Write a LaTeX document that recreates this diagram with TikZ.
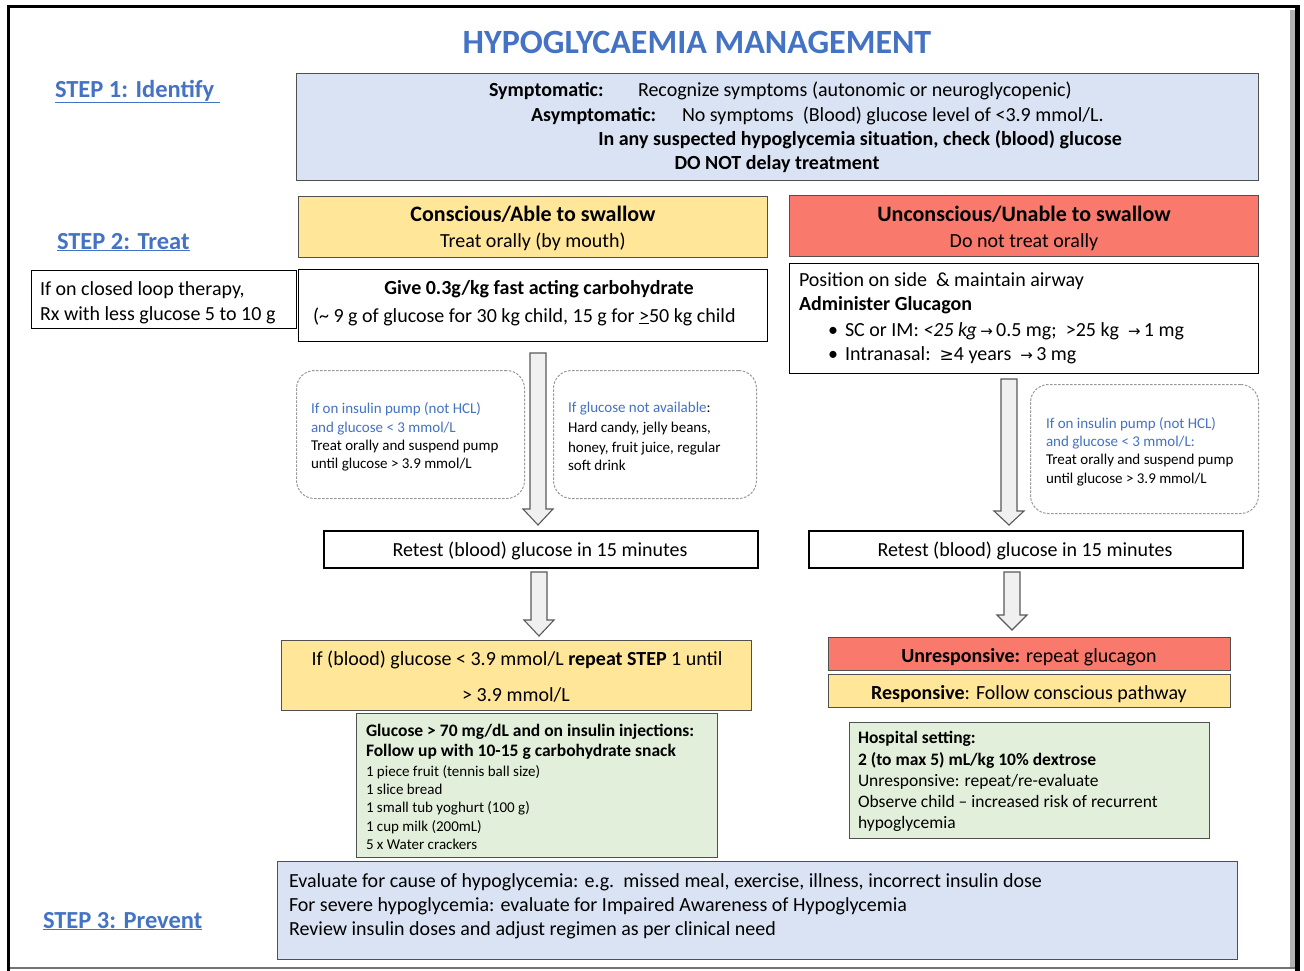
\documentclass[tikz,border=0pt]{standalone}
\usepackage{fontspec}
\setmainfont{Carlito}
\newfontfamily\dvfont{DejaVu Sans}
\definecolor{tblue}{HTML}{4472C4}
\definecolor{lblue}{HTML}{DAE3F3}
\definecolor{lyellow}{HTML}{FFE699}
\definecolor{lred}{HTML}{F97A6C}
\definecolor{lgreen}{HTML}{E2EFDA}
\definecolor{bordergrey}{HTML}{505050}
\newcommand{\myarr}{{\dvfont\fontsize{15}{15}\selectfont →}}
\newcommand{\myge}{{\dvfont\fontsize{17}{17}\selectfont ≥}}
\newcommand{\mkbox}[6]{\node[#2, minimum width={#5-#3}, minimum height={#6-#4}, anchor=north west, inner sep=0pt] (#1) at (#3,#4) {};}
\newcommand{\blkarrow}[4]{\draw[blockarr] ({#1-8},#2) -- ({#1+8},#2) -- ({#1+8},#3) -- ({#1+15},#3) -- (#1,#4) -- ({#1-15},#3) -- ({#1-8},#3) -- cycle;}
\begin{document}
\begin{tikzpicture}[x=1pt,y=-1pt,
  tx/.style={inner sep=0pt, outer sep=0pt, yshift=-2.5pt},
  f20/.style={font=\fontsize{20}{24}\selectfont, text height=13.5pt, text depth=4pt},
  f22/.style={font=\fontsize{22}{26}\selectfont\bfseries, text height=14.8pt, text depth=4.4pt},
  f15/.style={font=\fontsize{15}{18}\selectfont, text height=10pt, text depth=3pt},
  f17/.style={font=\fontsize{17.5}{21}\selectfont, text height=11.8pt, text depth=3.5pt},
  steplbl/.style={tx, font=\fontsize{24.5}{28}\selectfont\bfseries, text=tblue, text height=16pt, text depth=5pt, anchor=west},
  plainbox/.style={draw=black, line width=1.2pt, fill=white},
  bluebox/.style={draw=bordergrey, line width=1.2pt, fill=lblue},
  yellowbox/.style={draw=bordergrey, line width=1.2pt, fill=lyellow},
  redbox/.style={draw=bordergrey, line width=1.2pt, fill=lred},
  greenbox/.style={draw=bordergrey, line width=1.2pt, fill=lgreen},
  retestbox/.style={draw=black, line width=2pt, fill=white},
  dashbox/.style={draw=black!40, line width=1pt, dash pattern=on 2.5pt off 1.5pt, rounded corners=18pt, fill=white},
  blockarr/.style={draw=black!65, fill=black!6, line width=1.1pt, line join=miter},
  blue/.style={text=tblue}
]
\useasboundingbox (0,0) rectangle (1304,970);
\fill[white] (0,0) rectangle (1304,970);
% outer frame
\fill[black!30] (1290,10) rectangle (1295,968);
\draw[black!55, line width=2pt] (8,968) -- (1295,968);
\draw[line width=3pt] (8.5,971) -- (8.5,6.5) -- (1297,6.5);
\draw[line width=4.5pt] (1297.5,5) -- (1297.5,971);

% title
\node[inner sep=0pt, font=\fontsize{34}{40}\selectfont\bfseries, text=tblue] (title) at (697,42) {HYPOGLYCAEMIA MANAGEMENT};

% step labels
\node[steplbl] (step1) at (55,89) {\underline{STEP 1: Identify\ }};
\node[steplbl] (step2) at (57,241) {\underline{STEP 2: Treat}};
\node[steplbl] (step3) at (43,920) {\underline{STEP 3: Prevent}};

% STEP 1 box
\mkbox{identify}{bluebox}{296}{73}{1258}{180}
\node[tx, f20, anchor=west, font=\fontsize{20}{24}\selectfont\bfseries] (symt) at (489,89) {Symptomatic:};
\node[tx, f20, anchor=west] (symtx) at (638,89) {Recognize symptoms (autonomic or neuroglycopenic)};
\node[tx, f20, anchor=west, font=\fontsize{20}{24}\selectfont\bfseries] (asym) at (531,114) {Asymptomatic:};
\node[tx, f20, anchor=west] (asymtx) at (682,114) {No symptoms\ \ (Blood) glucose level of <3.9 mmol/L.};
\node[tx, f20, font=\fontsize{20}{24}\selectfont\bfseries] (check) at (860,138) {In any suspected hypoglycemia situation, check (blood) glucose};
\node[tx, f20, font=\fontsize{20}{24}\selectfont\bfseries] (delay) at (777,162) {DO NOT delay treatment};

% conscious / unconscious headers
\mkbox{consc}{yellowbox}{298}{196}{767}{257}
\node[tx, f22] (consch) at (533,214) {Conscious/Able to swallow};
\node[tx, f20] (conscs) at (533,240) {Treat orally (by mouth)};
\mkbox{uncon}{redbox}{789}{195}{1258}{256}
\node[tx, f22] (unconh) at (1024,214) {Unconscious/Unable to swallow};
\node[tx, f20] (uncons) at (1024,240) {Do not treat orally};

% closed loop
\mkbox{loop}{plainbox}{31}{270}{296}{328}
\node[tx, f20, anchor=west] (loop1) at (40,288) {If on closed loop therapy,};
\node[tx, f20, anchor=west] (loop2) at (40,313) {Rx with less glucose 5 to 10 g};

% give carbohydrate
\mkbox{give}{plainbox}{298}{269}{767}{341}
\node[tx, f20, font=\fontsize{20}{24}\selectfont\bfseries] (give1) at (539,287) {Give 0.3g/kg fast acting carbohydrate};
\node[tx, f20, anchor=west] (give2) at (313,315) {(\textasciitilde{} 9 g of glucose for 30 kg child, 15 g for \underline{>}50 kg child};

% glucagon box
\mkbox{gluc}{plainbox}{789}{263}{1258}{373}
\node[tx, f20, anchor=west] (pos1) at (799,279) {Position on side\ \ \& maintain airway};
\node[tx, f20, anchor=west, font=\fontsize{20}{24}\selectfont\bfseries] (pos2) at (799,303) {Administer Glucagon};
\node[tx, f20, anchor=west] (bul1) at (828,329) {\textbullet};
\node[tx, f20, anchor=west] (pos3) at (845,329) {SC or IM: \textit{<25 kg}\,\myarr\,0.5 mg;\ \ >25 kg\ \ \myarr\,1 mg};
\node[tx, f20, anchor=west] (bul2) at (828,353) {\textbullet};
\node[tx, f20, anchor=west] (pos4) at (845,353) {Intranasal:\ \ \myge4 years\ \ \myarr\,3 mg};

% dashed notes
\mkbox{pump1}{dashbox}{296}{370}{524}{498}
\node[tx, f15, anchor=west, blue] (p1a) at (311,407) {If on insulin pump (not HCL)};
\node[tx, f15, anchor=west, blue] (p1b) at (311,426) {and glucose < 3 mmol/L};
\node[tx, f15, anchor=west] (p1c) at (311,444) {Treat orally and suspend pump};
\node[tx, f15, anchor=west] (p1d) at (311,462) {until glucose > 3.9 mmol/L};

\mkbox{noglu}{dashbox}{553}{370}{756}{498}
\node[tx, f15, anchor=west] (g1a) at (568,406) {\textcolor{tblue}{If glucose not available}:};
\node[tx, f15, anchor=west] (g1b) at (568,426) {Hard candy, jelly beans,};
\node[tx, f15, anchor=west] (g1c) at (568,446) {honey, fruit juice, regular};
\node[tx, f15, anchor=west] (g1d) at (568,464) {soft drink};

\mkbox{pump2}{dashbox}{1030}{384}{1258}{513}
\node[tx, f15, anchor=west, blue] (p2a) at (1046,422) {If on insulin pump (not HCL)};
\node[tx, f15, anchor=west, blue] (p2b) at (1046,440) {and glucose < 3 mmol/L:};
\node[tx, f15, anchor=west] (p2c) at (1046,458) {Treat orally and suspend pump};
\node[tx, f15, anchor=west] (p2d) at (1046,477) {until glucose > 3.9 mmol/L};

% block arrows
\blkarrow{538}{353}{509}{525}
\blkarrow{1009}{379}{511}{525}

% retest boxes
\mkbox{retest1}{retestbox}{323}{530}{757}{567}
\node[tx, f20] (rt1) at (540,549) {Retest (blood) glucose in 15 minutes};
\mkbox{retest2}{retestbox}{808}{530}{1242}{567}
\node[tx, f20] (rt2) at (1025,549) {Retest (blood) glucose in 15 minutes};

\blkarrow{539}{572}{620}{636}
\blkarrow{1012}{572}{615}{630}

% repeat box
\mkbox{repeat}{yellowbox}{281}{640}{751}{710}
\node[tx, f20] (rep1) at (517,658) {If (blood) glucose < 3.9 mmol/L \textbf{repeat STEP} 1 until};
\node[tx, f20] (rep2) at (516,694) {> 3.9 mmol/L};

% green snack box
\mkbox{snack}{greenbox}{356}{713}{717}{857}
\node[tx, f17, anchor=west, font=\fontsize{17.5}{21}\selectfont\bfseries] (sn1) at (366,730) {Glucose > 70 mg/dL and on insulin injections:};
\node[tx, f17, anchor=west, font=\fontsize{17.5}{21}\selectfont\bfseries] (sn2) at (366,750) {Follow up with 10-15 g carbohydrate snack};
\node[tx, f15, anchor=west] (sn3) at (366,770) {1 piece fruit (tennis ball size)};
\node[tx, f15, anchor=west] (sn4) at (366,788) {1 slice bread};
\node[tx, f15, anchor=west] (sn5) at (366,806) {1 small tub yoghurt (100 g)};
\node[tx, f15, anchor=west] (sn6) at (366,825) {1 cup milk (200mL)};
\node[tx, f15, anchor=west] (sn7) at (366,843) {5 x Water crackers};

% responsive boxes
\mkbox{unresp}{redbox}{828}{637}{1230}{670}
\node[tx, f20] (ur) at (1029,655) {\textbf{Unresponsive:} repeat glucagon};
\mkbox{resp}{yellowbox}{828}{674}{1230}{707}
\node[tx, f20] (rs) at (1029,692) {\textbf{Responsive}: Follow conscious pathway};

% hospital box
\mkbox{hosp}{greenbox}{849}{722}{1209}{838}
\node[tx, f17, anchor=west, font=\fontsize{17.5}{21}\selectfont\bfseries] (h1) at (858,737) {Hospital setting:};
\node[tx, f17, anchor=west, font=\fontsize{17.5}{21}\selectfont\bfseries] (h2) at (858,759) {2 (to max 5) mL/kg 10\% dextrose};
\node[tx, f17, anchor=west] (h3) at (858,780) {Unresponsive: repeat/re-evaluate};
\node[tx, f17, anchor=west] (h4) at (858,801) {Observe child – increased risk of recurrent};
\node[tx, f17, anchor=west] (h5) at (858,822) {hypoglycemia};

% step 3 box
\mkbox{prevent}{bluebox}{277}{861}{1237}{959}
\node[tx, f20, anchor=west] (pv1) at (289,880) {Evaluate for cause of hypoglycemia: e.g.\ \ missed meal, exercise, illness, incorrect insulin dose};
\node[tx, f20, anchor=west] (pv2) at (289,904) {For severe hypoglycemia: evaluate for Impaired Awareness of Hypoglycemia};
\node[tx, f20, anchor=west] (pv3) at (289,928) {Review insulin doses and adjust regimen as per clinical need};
\end{tikzpicture}
\end{document}
